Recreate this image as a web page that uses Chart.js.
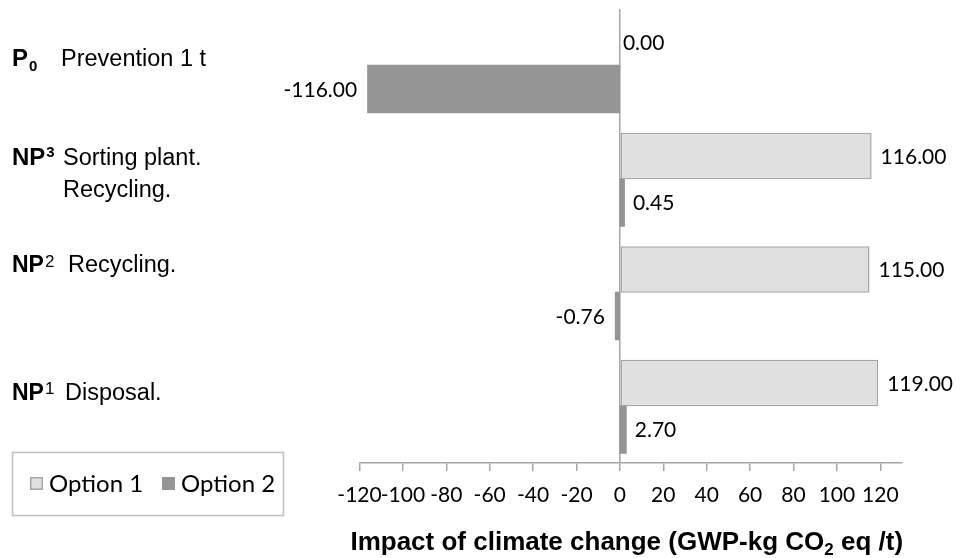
<!DOCTYPE html>
<html><head><meta charset="utf-8">
<script src="https://cdn.jsdelivr.net/npm/chart.js@4/dist/chart.umd.min.js"></script>
<style>html,body{margin:0;padding:0;background:#fff;} #wrap{position:relative;width:965px;height:558px;}</style>
</head><body><div id="wrap"><canvas id="c" width="965" height="558"></canvas></div>
<script>
const categories = ['P0 Prevention 1 t', 'NP3 Sorting plant. Recycling.', 'NP2 Recycling.', 'NP1 Disposal.'];
const categoryCodes = ['P', 'NP', 'NP', 'NP'];
const categoryIndices = ['0', '3', '2', '1'];
const categoryText = [['Prevention 1 t'], ['Sorting plant.', 'Recycling.'], ['Recycling.'], ['Disposal.']];
const seriesNames = ['Option 1', 'Option 2'];
const option1Values = [0.00, 116.00, 115.00, 119.00];
const option2Values = [-116.00, 0.45, -0.76, 2.70];
const xTickValues = [-120, -100, -80, -60, -40, -20, 0, 20, 40, 60, 80, 100, 120];
const xMin = -120, xMax = 130;
const axisTitleParts = ['Impact of climate change (GWP-kg CO', '2', ' eq /t)'];

const AX = '#a6a6a6';
const SANS = '"Liberation Sans", Arial, sans-serif';
const CAL = 'Lato, "Open Sans", sans-serif';

// layout of the left-hand category labels (code, index script, text lines)
const labelLayout = [
  { codeSize: 24, x: 12, base: 66, scriptSize: 15, scriptBold: true, scriptDx: 1, scriptDy: 5, textX: 61, textSize: 23.5, lineGap: 32 },
  { codeSize: 24, x: 12, base: 165, scriptSize: 15, scriptBold: true, scriptDx: 1, scriptDy: -8, textX: 63, textSize: 23.5, lineGap: 32 },
  { codeSize: 23, x: 12, base: 272, scriptSize: 17, scriptBold: false, scriptDx: 1, scriptDy: -5, textX: 68, textSize: 23.5, lineGap: 32 },
  { codeSize: 23, x: 12, base: 400, scriptSize: 17, scriptBold: false, scriptDx: 1, scriptDy: -6, textX: 65, textSize: 23.5, lineGap: 32 }
];

const extras = {
  id: 'extras',
  afterDraw(chart) {
    const ctx = chart.ctx;
    ctx.save();
    // data labels
    chart.data.datasets.forEach((ds, i) => {
      const meta = chart.getDatasetMeta(i);
      meta.data.forEach((el, j) => {
        const v = ds.data[j];
        ctx.font = '21px ' + CAL;
        ctx.fillStyle = '#000';
        ctx.textBaseline = 'middle';
        if (v > 0) { ctx.textAlign = 'left'; ctx.fillText(v.toFixed(2), el.x + 9, el.y + 1); }
        else if (v === 0) { ctx.textAlign = 'left'; ctx.fillText(v.toFixed(2), el.x + 3, el.y + 1); }
        else { ctx.textAlign = 'right'; ctx.fillText(v.toFixed(2), el.x - 11, el.y + 1); }
      });
    });
    // category labels
    ctx.textBaseline = 'alphabetic';
    ctx.textAlign = 'left';
    ctx.fillStyle = '#000';
    categoryCodes.forEach((code, i) => {
      const L = labelLayout[i];
      ctx.font = 'bold ' + L.codeSize + 'px ' + SANS;
      ctx.fillText(code, L.x, L.base);
      const w = ctx.measureText(code).width;
      ctx.font = (L.scriptBold ? 'bold ' : '') + L.scriptSize + 'px ' + SANS;
      ctx.fillText(categoryIndices[i], L.x + w + L.scriptDx, L.base + L.scriptDy);
      ctx.font = L.textSize + 'px ' + SANS;
      categoryText[i].forEach((t, k) => ctx.fillText(t, L.textX, L.base + k * L.lineGap));
    });
    // axis title
    const a = chart.chartArea;
    const fMain = 'bold 26px ' + SANS, fSub = 'bold 17px ' + SANS;
    ctx.font = fMain; const w1 = ctx.measureText(axisTitleParts[0]).width; const w3 = ctx.measureText(axisTitleParts[2]).width;
    ctx.font = fSub; const w2 = ctx.measureText(axisTitleParts[1]).width;
    let tx = (a.left + a.right) / 2 - 4 - (w1 + w2 + w3) / 2;
    const ty = 550;
    ctx.font = fMain; ctx.fillText(axisTitleParts[0], tx, ty); tx += w1;
    ctx.font = fSub; ctx.fillText(axisTitleParts[1], tx, ty + 5); tx += w2;
    ctx.font = fMain; ctx.fillText(axisTitleParts[2], tx, ty);
    // legend
    ctx.strokeStyle = '#bfbfbf'; ctx.lineWidth = 1.5;
    ctx.strokeRect(12.5, 452.5, 271, 63);
    const lx = [30, 162];
    chart.data.datasets.forEach((ds, i) => {
      ctx.fillStyle = ds.backgroundColor;
      ctx.fillRect(lx[i], 477, 13, 13);
      if (ds.borderWidth) { ctx.strokeStyle = ds.borderColor; ctx.lineWidth = 1.5; ctx.strokeRect(lx[i] + 0.75, 477.75, 11.5, 11.5); }
      ctx.fillStyle = '#000';
      ctx.font = '24px ' + CAL;
      ctx.textBaseline = 'alphabetic';
      ctx.fillText(ds.label, lx[i] + 19, 492);
    });
    ctx.restore();
  }
};

new Chart(document.getElementById('c'), {
  type: 'bar',
  data: {
    labels: categories,
    datasets: [
      { label: seriesNames[0], data: option1Values, backgroundColor: '#e0e0e0', borderColor: AX, borderWidth: 1.5, borderSkipped: false },
      { label: seriesNames[1], data: option2Values, backgroundColor: '#959595', borderColor: '#959595', borderWidth: 0, minBarLength: 4, inflateAmount: 1 }
    ]
  },
  options: {
    indexAxis: 'y',
    responsive: false,
    animation: false,
    devicePixelRatio: 1,
    categoryPercentage: 0.82,
    barPercentage: 1,
    layout: { padding: { left: 359.5, right: 63, top: 9, bottom: 0 } },
    scales: {
      y: { display: false },
      x: {
        type: 'linear', min: xMin, max: xMax,
        afterBuildTicks: s => { s.ticks = xTickValues.map(v => ({ value: v })); },
        afterFit: s => { s.height = 95; },
        grid: {
          drawOnChartArea: true,
          color: c => (c.tick && c.tick.value === 0) ? AX : 'rgba(0,0,0,0)',
          tickColor: AX, tickLength: 8, lineWidth: 1.5
        },
        border: { display: true, color: AX, width: 1.5 },
        ticks: { autoSkip: false, maxRotation: 0, minRotation: 0, color: '#000', padding: 12,
                 font: { family: CAL, size: 21 }, callback: v => String(v) }
      }
    },
    plugins: { legend: { display: false }, tooltip: { enabled: false } }
  },
  plugins: [extras]
});
</script></body></html>
